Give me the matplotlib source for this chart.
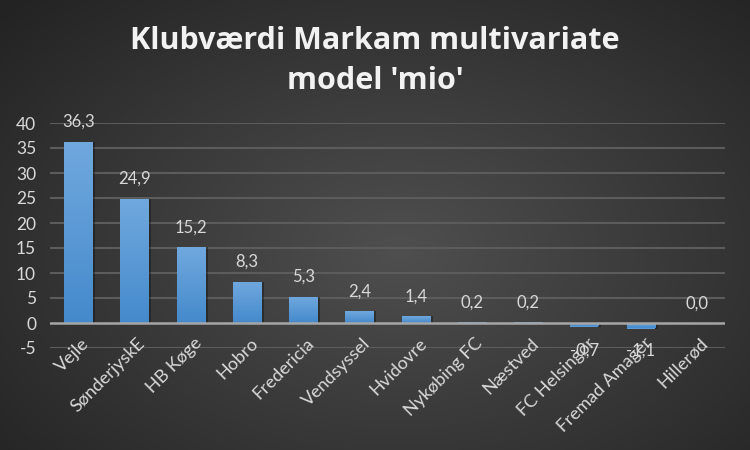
import matplotlib.pyplot as plt
import numpy as np

clubs = ["Vejle", "SønderjyskE", "HB Køge", "Hobro", "Fredericia", "Vendsyssel",
         "Hvidovre", "Nykøbing FC", "Næstved", "FC Helsingør", "Fremad Amager", "Hillerød"]
values = [36.3, 24.9, 15.2, 8.3, 5.3, 2.4, 1.4, 0.2, 0.2, -0.7, -1.1, 0.0]
yticks = [-5, 0, 5, 10, 15, 20, 25, 30, 35, 40]

plt.rcParams['font.family'] = ['Lato', 'DejaVu Sans']
txt = '#d9d9d9'
fs = 12

fig = plt.figure(figsize=(7.5, 4.5), dpi=100)

# radial background gradient
bg = fig.add_axes([0, 0, 1, 1], zorder=-10)
yy, xx = np.mgrid[0:450, 0:750]
r = np.sqrt(((xx - 400) / 500.0) ** 2 + ((yy - 250) / 330.0) ** 2)
shade = np.clip(0.31 - 0.16 * r, 0.14, 0.31)
bg.imshow(np.dstack([shade] * 3), extent=[0, 1, 0, 1], aspect='auto')
bg.axis('off')

ax = fig.add_axes([50 / 750, 1 - 348 / 450, 675 / 750, 225 / 450])
ax.set_facecolor('none')
ax.set_xlim(-0.5, len(clubs) - 0.5)
ax.set_ylim(-5, 40)
x = np.arange(len(clubs))
ax.bar(x + 0.05, values, width=0.5, color='#141414', alpha=0.45, zorder=2)
bars = ax.bar(x, values, width=0.5, color='#5b9bd5', zorder=3)

# vertical gradient inside each bar
grad = np.linspace(0, 1, 100).reshape(-1, 1)
top_c = np.array([0.44, 0.66, 0.87])
bot_c = np.array([0.27, 0.54, 0.80])
img = top_c * (1 - grad[..., None]) + bot_c * grad[..., None]
for b in bars:
    x0, y0 = b.get_x(), b.get_y()
    w, h = b.get_width(), b.get_height()
    if h == 0:
        continue
    lo, hi = min(y0, y0 + h), max(y0, y0 + h)
    im = ax.imshow(img, extent=[x0, x0 + w, lo, hi], aspect='auto', zorder=3.5)
    im.set_clip_path(b)
ax.set_aspect('auto')

for xi, v in zip(x, values):
    label = f"{v:.1f}".replace('.', ',')
    if v >= 0:
        ax.text(xi, v + 3.9, label, ha='center', va='center', color=txt, fontsize=fs)
    else:
        ax.text(xi, -5.5, label, ha='center', va='center', color=txt, fontsize=fs)

ax.set_yticks(yticks)
ax.set_yticklabels([str(t) for t in yticks])
for t in yticks:
    if t != 0:
        ax.axhline(t, color='#5c5c5c', linewidth=1.5, zorder=1)
ax.axhline(0, color='#a6a6a6', linewidth=1.8, zorder=4)

ax.set_xticks([])
for xi, name in zip(x, clubs):
    ax.text(xi + 0.05, -2.4, name, rotation=45, ha='right', va='top',
            rotation_mode='anchor', color=txt, fontsize=13)
ax.tick_params(axis='y', length=0, pad=10, colors=txt, labelsize=12.5)
for s in ax.spines.values():
    s.set_visible(False)

fig.text(0.5, 1 - 61 / 450, "Klubværdi Markam multivariate\nmodel 'mio'", ha='center', va='center',
         color='#f2f2f2', fontsize=22, fontweight='bold', linespacing=1.4,
         family=['Open Sans', 'DejaVu Sans'])

fig.savefig("out.png", dpi=100)
